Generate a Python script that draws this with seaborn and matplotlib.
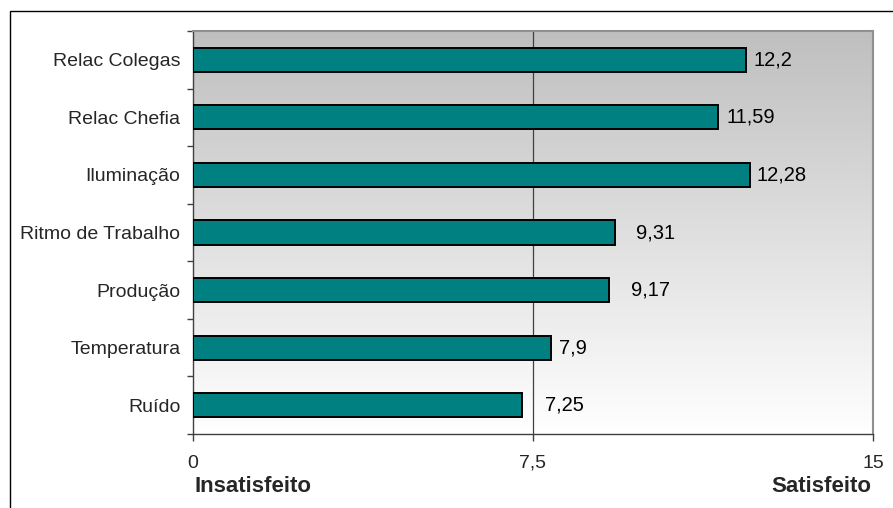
import numpy as np
import pandas as pd
import matplotlib
matplotlib.use("Agg")
import matplotlib.pyplot as plt
from matplotlib.patches import Rectangle
import seaborn as sns

categories = ["Relac Colegas", "Relac Chefia", "Iluminação", "Ritmo de Trabalho",
              "Produção", "Temperatura", "Ruído"]
values = [12.2, 11.59, 12.28, 9.31, 9.17, 7.9, 7.25]
value_labels = ["12,2", "11,59", "12,28", "9,31", "9,17", "7,9", "7,25"]
x_ticks = [0, 7.5, 15]
x_tick_labels = ["0", "7,5", "15"]
# horizontal gap (pixels) between each bar end and its value label
label_gap_px = [7, 8, 7, 21, 22, 8, 23]

df = pd.DataFrame({"categoria": categories, "valor": values})

sns.set_theme(style="white")
plt.rcParams["font.family"] = ["Liberation Sans", "DejaVu Sans"]

W, H, DPI = 893, 508, 100
fig = plt.figure(figsize=(W / DPI, H / DPI), dpi=DPI)
fig.patch.set_facecolor("white")

# outer chart frame (runs off the right and bottom edges)
fig.add_artist(Rectangle((10 / W, -0.05), 1.2, 1 - 11 / H + 0.05,
                         transform=fig.transFigure, fill=False,
                         edgecolor="black", linewidth=1.0))

left, right, top, bottom = 193 / W, 873 / W, 1 - 31 / H, 1 - 434 / H
ax = fig.add_axes([left, bottom, right - left, top - bottom])

# vertical grey-to-white gradient behind the bars
grad = np.linspace(0, 1, 256).reshape(-1, 1)
ax.imshow(grad, extent=[0, 15, 6.5, -0.5], aspect="auto",
          cmap=matplotlib.colors.LinearSegmentedColormap.from_list(
              "bg", ["#bfbfbf", "#ffffff"]),
          zorder=0, interpolation="bicubic")

sns.barplot(data=df, x="valor", y="categoria", orient="h", ax=ax,
            color="#008080", saturation=1, width=0.42,
            edgecolor="black", linewidth=1.4, zorder=3)

ax.set_xlim(0, 15)
ax.set_ylim(6.5, -0.5)
ax.axvline(7.5, color="#404040", linewidth=0.9, zorder=1)

for i, (v, lab, gap) in enumerate(zip(values, value_labels, label_gap_px)):
    ax.annotate(lab, xy=(v, i), xytext=(gap * 72 / DPI, 0),
                textcoords="offset points", ha="left", va="center",
                fontsize=14.5, color="black", zorder=4)

ax.set_xticks(x_ticks)
ax.set_xticklabels(x_tick_labels, fontsize=14)
ax.set_yticks(range(len(categories)))
ax.set_yticklabels(categories, fontsize=14)
ax.set_yticks(np.arange(-0.5, len(categories)), minor=True)
ax.tick_params(axis="y", which="major", length=0, pad=9)
ax.tick_params(axis="y", which="minor", length=4, width=1, color="#404040",
               left=True, direction="out")
ax.tick_params(axis="x", which="major", length=5, width=1, color="#404040",
               bottom=True, direction="out", pad=10)
ax.set_xlabel("")
ax.set_ylabel("")

for side in ["left", "bottom"]:
    ax.spines[side].set_color("#404040")
    ax.spines[side].set_linewidth(1.0)
for side in ["top", "right"]:
    ax.spines[side].set_visible(True)
    ax.spines[side].set_color("#909090")
    ax.spines[side].set_linewidth(1.5)

fig.text(195 / W, 1 - 487 / H, "Insatisfeito", ha="left", va="center",
         fontsize=16, fontweight="bold")
fig.text(871 / W, 1 - 487 / H, "Satisfeito", ha="right", va="center",
         fontsize=16, fontweight="bold")

fig.savefig("out.png", dpi=DPI)
